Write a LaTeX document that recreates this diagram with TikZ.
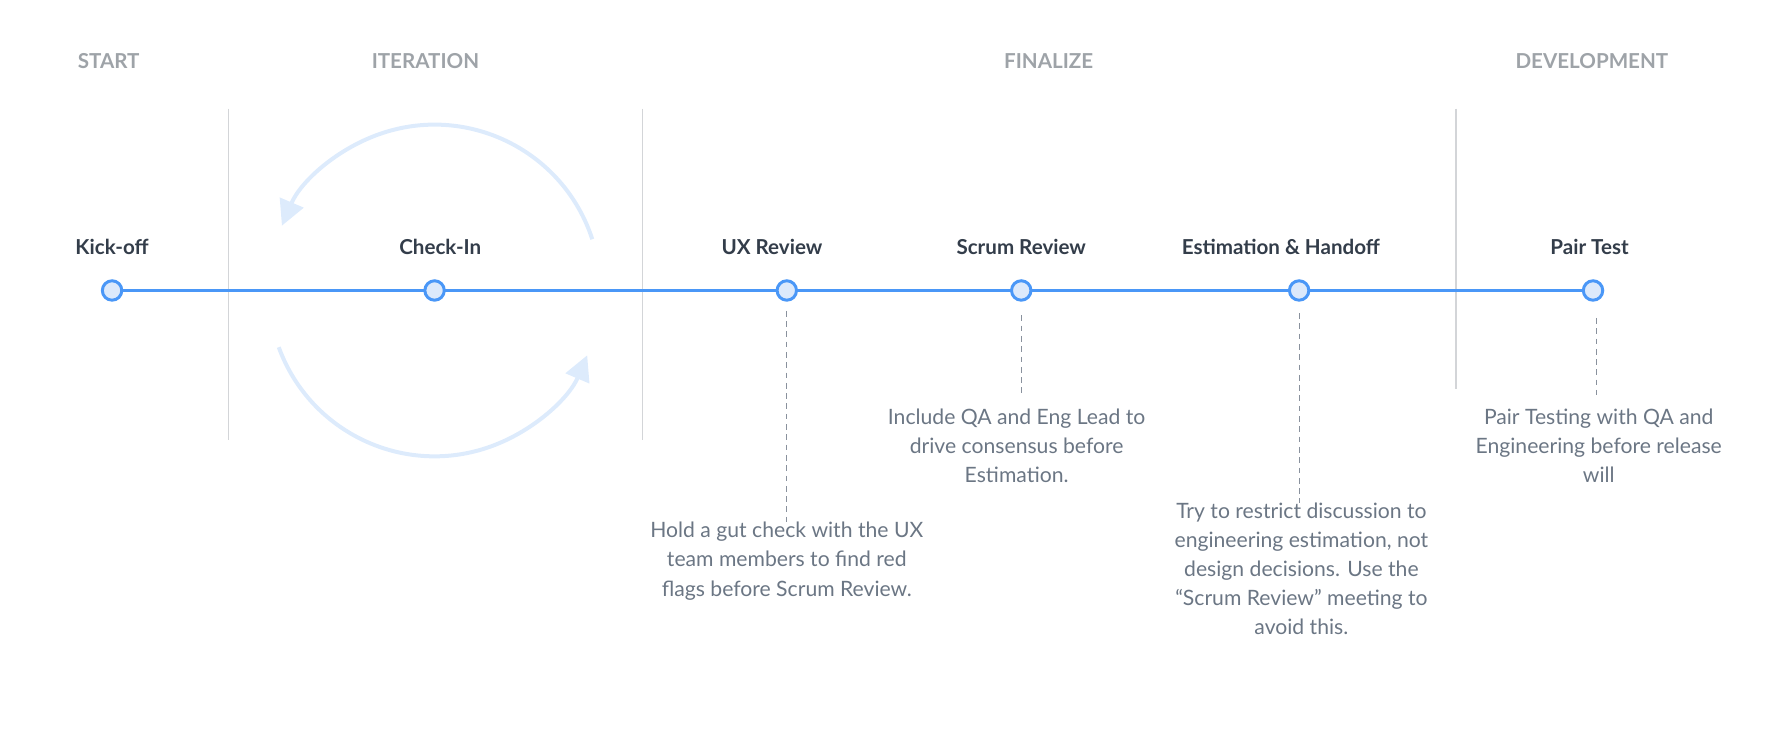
\documentclass[tikz,border=0pt]{standalone}
\usepackage{fontspec}
\setmainfont{Lato}
\usetikzlibrary{arrows.meta}
\definecolor{lineblue}{HTML}{4A97F7}
\definecolor{fillblue}{HTML}{DCE9FB}
\definecolor{arcblue}{HTML}{DDEBFC}
\definecolor{dark}{HTML}{333D4A}
\definecolor{hdr}{HTML}{9EA3A8}
\definecolor{body}{HTML}{6B7684}
\definecolor{sep}{HTML}{D3D5D8}
\tikzset{
 x=1pt,y=-1pt,
 dot/.style={circle,draw=lineblue,fill=fillblue,line width=2.6pt,minimum size=17pt,inner sep=0},
 lbl/.style={font=\fontsize{18}{20}\selectfont\bfseries,text=dark},
 hd/.style={font=\fontsize{18}{20}\selectfont\bfseries,text=hdr},
 desc/.style={font=\fontsize{18.5}{25.5}\selectfont,text=body,align=center,anchor=north},
 dsh/.style={draw=body!80,dashed,line width=1pt,dash pattern=on 5pt off 4pt},
 sepl/.style={draw=sep,line width=1.3pt},
 arc/.style={draw=arcblue,line width=3.5pt,-{Triangle[length=22pt,width=22pt]}}
}
\begin{document}
\begin{tikzpicture}
\useasboundingbox (0,0) rectangle (1560,654);
% headers
\node[hd] (h1) at (95,53) {START};
\node[hd] (h2) at (372,53) {ITERATION};
\node[hd] (h3) at (917,53) {FINALIZE};
\node[hd] (h4) at (1392,53) {DEVELOPMENT};
% separators
\draw[sepl] (200,95) -- (200,385);
\draw[sepl] (562,95) -- (562,385);
\draw[sepl] (1273,95) -- (1273,340);
% arcs
\draw[arc] (380,254) ++(160:145) arc (160:23:145);
\draw[arc] (380,254) ++(-18:145) arc (-18:-157:145);
% timeline
\coordinate (n0) at (98,254);
\coordinate (n5) at (1393,254);
\draw[lineblue,line width=3pt] (n0) -- (n5);
\node[dot] (a) at (98,254) {};
\node[dot] (b) at (380,254) {};
\node[dot] (c) at (688,254) {};
\node[dot] (d) at (893,254) {};
\node[dot] (e) at (1136,254) {};
\node[dot] (f) at (1393,254) {};
% labels
\node[lbl] (la) at (98,216) {Kick-off};
\node[lbl] (lb) at (385,216) {Check-In};
\node[lbl] (lc) at (675,216) {UX Review};
\node[lbl] (ld) at (893,216) {Scrum Review};
\node[lbl] (le) at (1120,216) {Estimation \& Handoff};
\node[lbl] (lf) at (1390,216) {Pair Test};
% descriptions
\node[desc] (dc) at (688,453) {Hold a gut check with the UX\\team members to find red\\flags before Scrum Review.};
\node[desc] (dd) at (889,354) {Include QA and Eng Lead to\\drive consensus before\\Estimation.};
\node[desc] (de) at (1138,436) {Try to restrict discussion to\\engineering estimation, not\\design decisions. Use the\\“Scrum Review” meeting to\\avoid this.};
\node[desc] (df) at (1398,354) {Pair Testing with QA and\\Engineering before release\\will};
% dashed connectors
\draw[dsh] (c.south) ++(0,8) -- ([yshift=-4pt]dc.north -| c);
\draw[dsh] (d.south) ++(0,12) -- (893,345);
\draw[dsh] (e.south) ++(0,10) -- ([yshift=-4pt]de.north -| e);
\draw[dsh] (1396,278) -- (1396,345);
\end{tikzpicture}
\end{document}
